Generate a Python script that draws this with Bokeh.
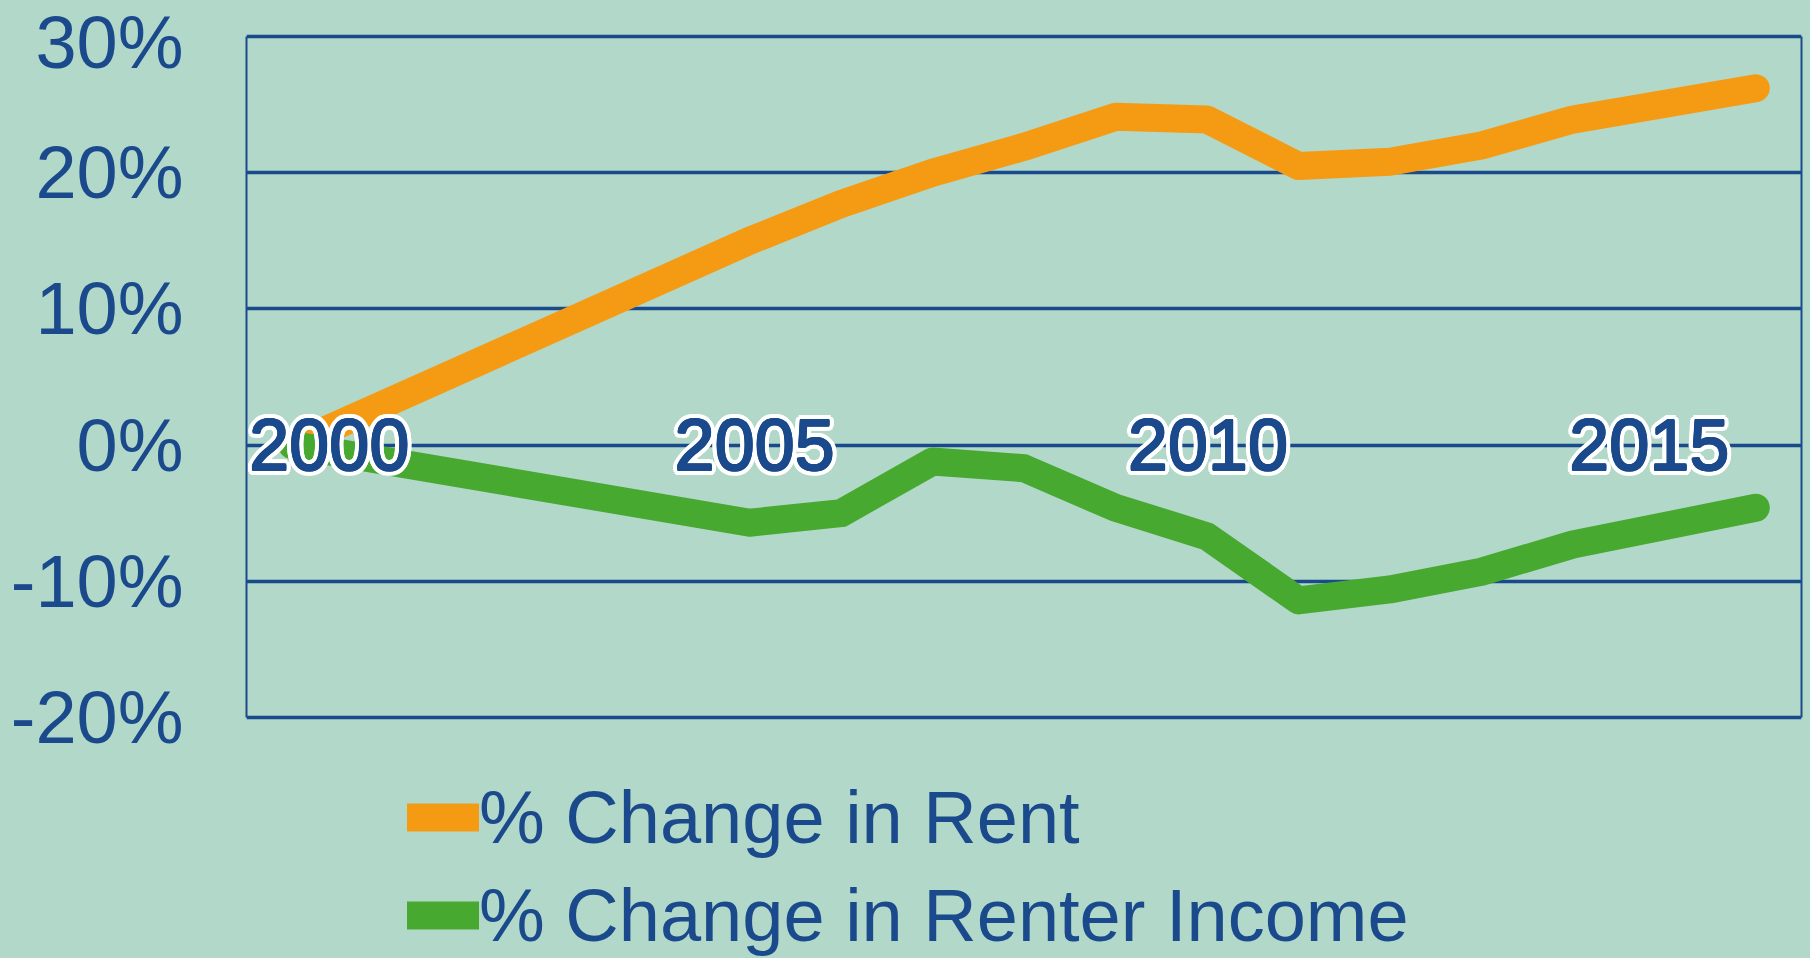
import math
from bokeh.plotting import figure
from bokeh.models import (Range1d, FixedTicker, PrintfTickFormatter, Legend, LegendItem,
                          LinearAxis)
from bokeh.embed import file_html
from bokeh.resources import INLINE
from bokeh.core.properties import value

# ---------------- data ----------------
years = [2000, 2005, 2006, 2007, 2008, 2009, 2010, 2011, 2012, 2013, 2014, 2016]
rent_change = [0.0, 15.0, 17.7, 20.0, 21.9, 24.1, 23.9, 20.5, 20.8, 22.0, 23.9, 26.2]
income_change = [0.0, -5.7, -5.0, -1.2, -1.7, -4.6, -6.7, -11.4, -10.6, -9.3, -7.3, -4.6]
series_names = ["% Change in Rent", "% Change in Renter Income"]
y_ticks = [-20, -10, 0, 10, 20, 30]
x_tick_years = [2000, 2005, 2010, 2015]
x_tick_labels = ["2000", "2005", "2010", "2015"]

# ---------------- style / layout ----------------
BG = "#B2D8CA"
BLUE = "#1B4A8C"
ORANGE = "#F59B13"
GREEN = "#47A92F"
FONT = "Liberation Sans"

W, H = 1810, 958
TOP_PX, BOTTOM_PX = 36, 717          # pixel rows of the 30% and -20% lines
HEAD_PX = 4                          # a little room above the top line so it is not clipped
Y_MIN, Y_MAX = y_ticks[0], y_ticks[-1]
px_per_unit = (BOTTOM_PX - TOP_PX) / (Y_MAX - Y_MIN)
# the frame runs down to the page bottom so the legend below the chart is not clipped
y_start = Y_MIN - (H - BOTTOM_PX) / px_per_unit
y_end = Y_MAX + HEAD_PX / px_per_unit

p = figure(width=W, height=H, output_backend="svg", toolbar_location=None,
           x_range=Range1d(1999.5, 2016.5), y_range=Range1d(y_start, y_end),
           x_axis_location=None,
           min_border_left=246, min_border_right=9, min_border_top=TOP_PX - HEAD_PX,
           min_border_bottom=0,
           background_fill_color=BG, border_fill_color=BG,
           outline_line_color=None)

p.xgrid.grid_line_color = None
yax = p.yaxis[0]
yax.bounds = (Y_MIN, Y_MAX)
yax.ticker = FixedTicker(ticks=y_ticks)
yax.formatter = PrintfTickFormatter(format="%d%%")
yax.major_label_text_font_size = "74px"
yax.major_label_text_font = FONT
yax.major_label_text_color = BLUE
yax.major_tick_line_color = None
yax.minor_tick_line_color = None
yax.major_tick_out = 0
yax.major_tick_in = 0
yax.minor_tick_out = 0
yax.axis_line_color = BLUE
yax.axis_line_width = 2
yax.major_label_standoff = 63

right = LinearAxis(bounds=(Y_MIN, Y_MAX), ticker=FixedTicker(ticks=[]),
                   axis_line_color=BLUE, axis_line_width=2,
                   major_tick_line_color=None, minor_tick_line_color=None,
                   major_tick_out=0, major_tick_in=0, minor_tick_out=0,
                   major_label_standoff=0, major_label_text_font_size="0px")
p.add_layout(right, "right")

p.ygrid.ticker = FixedTicker(ticks=y_ticks)
p.ygrid.grid_line_color = BLUE
p.ygrid.grid_line_width = 3.5

r1 = p.line(years, rent_change, line_color=ORANGE, line_width=28,
            line_cap="round", line_join="round")
r2 = p.line(years, income_change, line_color=GREEN, line_width=28,
            line_cap="round", line_join="round")

# category labels drawn across the 0% line, with a white outline
label_nudge = [37, 5, 1, -15]
zeros = [0] * len(x_tick_years)
label_style = dict(text_align="center", text_baseline="middle",
                   text_font=value(FONT), text_font_size="72px")
R_OUT = 5.0
for k in range(16):
    a = 2 * math.pi * k / 16
    p.text(x=x_tick_years, y=zeros, text=x_tick_labels,
           x_offset=[n + R_OUT * math.cos(a) for n in label_nudge],
           y_offset=R_OUT * math.sin(a), text_color="white", **label_style)
R_IN = 0.9
for k in range(8):
    a = 2 * math.pi * k / 8
    p.text(x=x_tick_years, y=zeros, text=x_tick_labels,
           x_offset=[n + R_IN * math.cos(a) for n in label_nudge],
           y_offset=R_IN * math.sin(a), text_color=BLUE, **label_style)
p.text(x=x_tick_years, y=zeros, text=x_tick_labels,
       x_offset=label_nudge, text_color=BLUE, **label_style)

ROW_H, ROW_GAP = 96, 2
LEG_LEFT_PX, ROW1_CENTER_PX = 407, 817
leg_height = 2 * ROW_H + ROW_GAP
leg_bottom_px = ROW1_CENTER_PX - ROW_H / 2 + leg_height
legend = Legend(items=[LegendItem(label=series_names[0], renderers=[r1]),
                       LegendItem(label=series_names[1], renderers=[r2])],
                location=(LEG_LEFT_PX - 246, -(leg_bottom_px - H)), orientation="vertical",
                glyph_width=72, glyph_height=ROW_H, label_height=ROW_H,
                label_standoff=0, spacing=ROW_GAP, padding=0, margin=0,
                border_line_color=None, background_fill_alpha=0,
                label_text_font_size="74px", label_text_font=FONT,
                label_text_color=BLUE)
p.add_layout(legend)

html = file_html(p, INLINE, title="Rent vs Renter Income")
style = "<style>html,body{margin:0;padding:0;overflow:hidden;background:%s;}</style>" % BG
html = html.replace("</head>", style + "</head>", 1)
open("out.html", "w").write(html)
